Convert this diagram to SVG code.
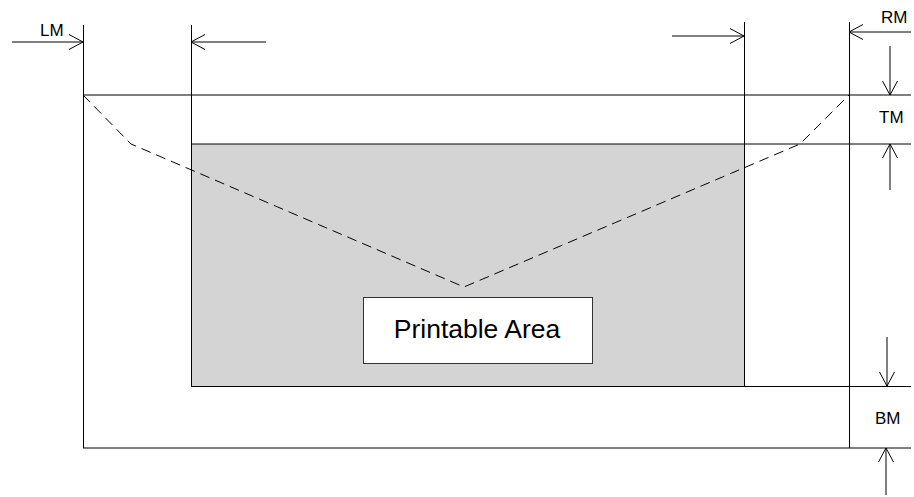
<svg xmlns="http://www.w3.org/2000/svg" width="914" height="497" viewBox="0 0 914 497">
<style>
.ln{stroke:#000;stroke-width:1;fill:none}
.dash{stroke:#000;stroke-width:1;fill:none;stroke-dasharray:10,6}
.arr{stroke:#000;stroke-width:1;fill:none;marker-end:url(#ah)}
.lbl{font-family:"Liberation Sans",Arial,sans-serif;font-size:17px;fill:#000}
</style>
<defs>
<marker id="ah" viewBox="0 0 16 16" refX="15" refY="8" markerWidth="16" markerHeight="16" markerUnits="userSpaceOnUse" orient="auto">
<path d="M1,0.5 L15,8 L1,15.5" fill="none" stroke="#000" stroke-width="1"/>
</marker>
</defs>
<rect width="914" height="497" fill="#fff"/>
<g id="printable-area">
<rect x="191.5" y="144" width="553" height="242.5" fill="#d4d4d4" stroke="none"/>
</g>
<g id="page-lines">
<line class="ln" x1="83.5" y1="25" x2="83.5" y2="448"/>
<line class="ln" x1="191.5" y1="25" x2="191.5" y2="386.5"/>
<line class="ln" x1="744.5" y1="22" x2="744.5" y2="386.5"/>
<line class="ln" x1="849.5" y1="22" x2="849.5" y2="448"/>
<line class="ln" x1="83" y1="95" x2="911" y2="95"/>
<line class="ln" x1="191" y1="144" x2="911" y2="144"/>
<line class="ln" x1="191" y1="386.5" x2="911" y2="386.5"/>
<line class="ln" x1="83" y1="448" x2="911" y2="448"/>
</g>
<g id="fold-line">
<polyline class="dash" points="83,95 131,144 464,287 800,144 849,95"/>
</g>
<g id="label-box">
<rect x="363.5" y="297.5" width="229" height="66" fill="#fff" stroke="#333" stroke-width="1"/>
<text class="lbl" x="477" y="338" text-anchor="middle" style="font-size:26.5px">Printable Area</text>
</g>
<g id="connectors">
<line class="arr" x1="12" y1="42" x2="83" y2="42"/>
<line class="arr" x1="266" y1="42" x2="191" y2="42"/>
<line class="arr" x1="672" y1="36" x2="744" y2="36"/>
<line class="arr" x1="911" y1="32" x2="849" y2="32"/>
<line class="arr" x1="890" y1="46" x2="890" y2="95"/>
<line class="arr" x1="890" y1="190" x2="890" y2="144"/>
<line class="arr" x1="887" y1="337" x2="887" y2="386"/>
<line class="arr" x1="886" y1="495" x2="886" y2="448"/>
</g>
<g id="labels">
<text class="lbl" x="40" y="36">LM</text>
<text class="lbl" x="881" y="23">RM</text>
<text class="lbl" x="879" y="123">TM</text>
<text class="lbl" x="875" y="424">BM</text>
</g>
</svg>
